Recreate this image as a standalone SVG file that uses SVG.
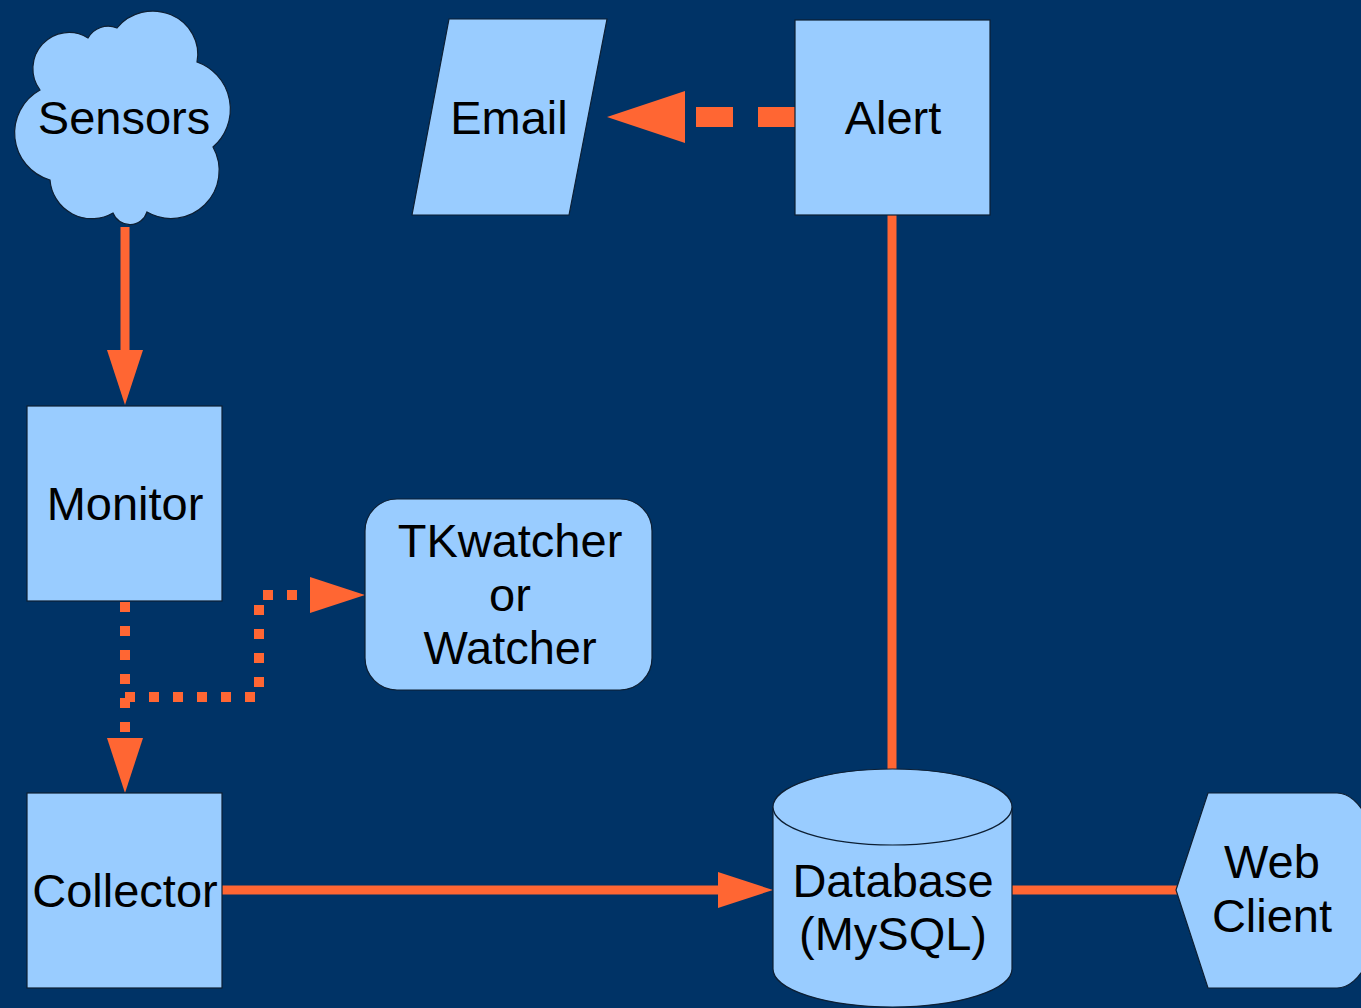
<svg xmlns="http://www.w3.org/2000/svg" width="1361" height="1008" viewBox="0 0 1361 1008">
  <style>
    .node { fill: #99ccff; stroke: #0d1f33; stroke-width: 1.2; }
    .label { font-family: "Liberation Sans", Arial, sans-serif; font-size: 47px; fill: #000; text-anchor: middle; }
    .conn { fill: none; stroke: #ff6633; stroke-width: 9; }
    .dot { stroke-width: 10; stroke-dasharray: 10 14; }
    .dash { stroke-width: 20; stroke-dasharray: 37 25; }
  </style>
  <defs>
    <marker id="arrow" markerUnits="userSpaceOnUse" viewBox="0 0 55 36" markerWidth="55" markerHeight="36" refX="0" refY="18" orient="auto" overflow="visible">
      <polygon points="0,0 55,18 0,36" fill="#ff6633"/>
    </marker>
    <marker id="arrowBig" markerUnits="userSpaceOnUse" viewBox="0 0 78 52" markerWidth="78" markerHeight="52" refX="0" refY="26" orient="auto" overflow="visible">
      <polygon points="0,0 78,26 0,52" fill="#ff6633"/>
    </marker>
  </defs>
  <rect x="0" y="0" width="1361" height="1008" fill="#003366"/>

  <g id="connectors">
    <path class="conn" d="M125,227 L125,350" marker-end="url(#arrow)"/>
    <path class="conn dot" d="M125,602 L125,738" marker-end="url(#arrow)"/>
    <path class="conn dot" d="M125,697 L259,697 L259,595 L310,595" marker-end="url(#arrow)"/>
    <path class="conn" d="M222,890 L718,890" marker-end="url(#arrow)"/>
    <path class="conn dash" d="M795,117 L685,117" marker-end="url(#arrowBig)"/>
    <path class="conn" d="M892,215 L892,771"/>
    <path class="conn" d="M1012,890 L1177,890"/>
  </g>

  <g id="sensors">
    <path class="node" d="M117,28 A45,43 0 0 1 197,62 A50,50 0 0 1 213,147 A48,48 0 0 1 147,212 A18,18 0 0 1 113,213 A42,42 0 0 1 50,180 A49,49 0 0 1 40,90 A36,36 0 0 1 88,38 A23,23 0 0 1 117,28 Z"/>
    <text class="label" x="124" y="134">Sensors</text>
  </g>

  <g id="email">
    <polygon class="node" points="449,19 607,19 569,215 412,215"/>
    <text class="label" x="509" y="134">Email</text>
  </g>

  <g id="alert">
    <rect class="node" x="795" y="20" width="195" height="195"/>
    <text class="label" x="893" y="134">Alert</text>
  </g>

  <g id="monitor">
    <rect class="node" x="27" y="406" width="195" height="195"/>
    <text class="label" x="125" y="520">Monitor</text>
  </g>

  <g id="tkwatcher">
    <rect class="node" x="365" y="499" width="287" height="191" rx="32" ry="32"/>
    <text class="label" x="510" y="557">TKwatcher</text>
    <text class="label" x="510" y="611">or</text>
    <text class="label" x="510" y="664">Watcher</text>
  </g>

  <g id="collector">
    <rect class="node" x="27" y="793" width="195" height="195"/>
    <text class="label" x="125" y="907">Collector</text>
  </g>

  <g id="database">
    <path class="node" d="M773,807 A119.5,38 0 0 1 1012,807 L1012,969 A119.5,38 0 0 1 773,969 Z"/>
    <path class="node" d="M773,807 A119.5,38 0 0 0 1012,807" fill="none"/>
    <text class="label" x="893" y="897">Database</text>
    <text class="label" x="893" y="950">(MySQL)</text>
  </g>

  <g id="webclient">
    <path class="node" d="M1176,890 L1208,793 L1337,793 A45,97.5 0 0 1 1337,988 L1208,988 Z"/>
    <text class="label" x="1272" y="878">Web</text>
    <text class="label" x="1272" y="932">Client</text>
  </g>
</svg>
